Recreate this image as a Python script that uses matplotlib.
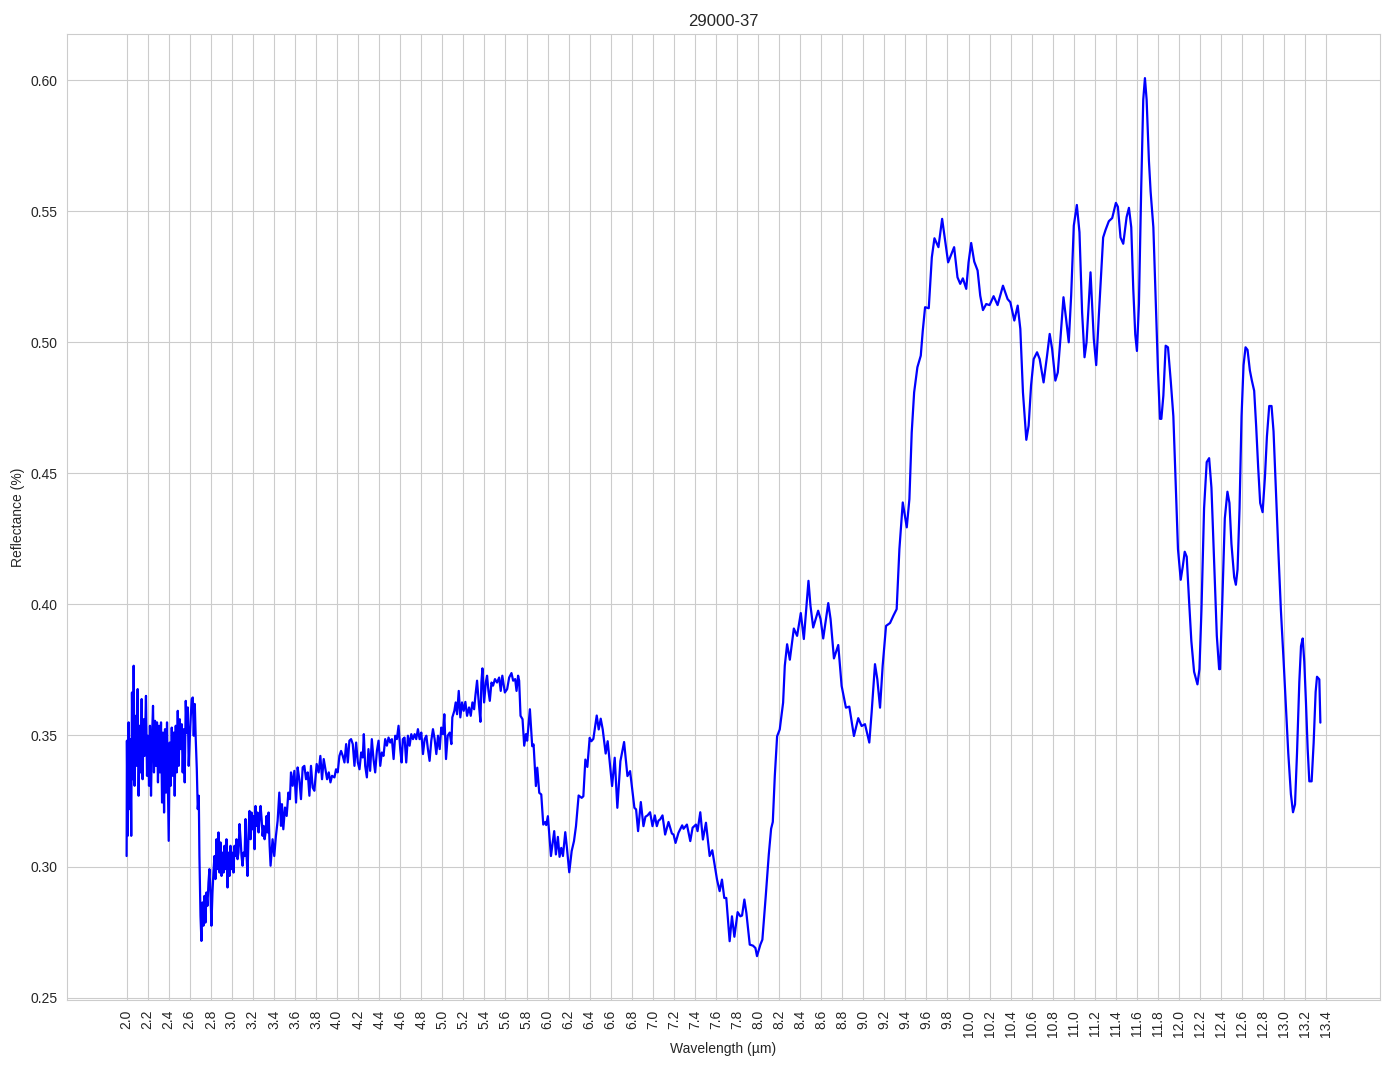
import matplotlib
matplotlib.use("Agg")
import matplotlib.pyplot as plt
import seaborn as sns
import numpy as np

# (wavelength µm, reflectance), segment by segment
seg_a = [
    (2.000, 0.304), (2.003, 0.348), (2.010, 0.3117), (2.019, 0.355), (2.029, 0.3219), (2.035, 0.3486),
    (2.044, 0.3117), (2.051, 0.3664), (2.060, 0.3333), (2.067, 0.3766), (2.076, 0.3308), (2.086, 0.3575),
    (2.095, 0.3384), (2.105, 0.3677), (2.114, 0.327), (2.124, 0.3537), (2.133, 0.3359), (2.143, 0.3639),
    (2.152, 0.3333), (2.162, 0.3562), (2.171, 0.3422), (2.184, 0.3651), (2.194, 0.3346), (2.203, 0.3499),
    (2.213, 0.3308), (2.222, 0.3537), (2.232, 0.327), (2.241, 0.3486), (2.251, 0.3613), (2.260, 0.3359),
    (2.270, 0.3556), (2.279, 0.3384), (2.289, 0.355), (2.298, 0.3321), (2.308, 0.3537), (2.317, 0.3359),
    (2.327, 0.355), (2.337, 0.3244), (2.346, 0.3511), (2.356, 0.3206), (2.365, 0.3524), (2.375, 0.3282),
    (2.384, 0.355), (2.394, 0.327), (2.400, 0.3098), (2.410, 0.3473), (2.419, 0.3308), (2.429, 0.353),
    (2.438, 0.3346), (2.448, 0.3511), (2.457, 0.327), (2.467, 0.3537), (2.476, 0.3359), (2.486, 0.3594),
    (2.495, 0.3384), (2.505, 0.3562), (2.514, 0.3448), (2.524, 0.3543), (2.533, 0.3359), (2.543, 0.3524),
    (2.552, 0.3321), (2.562, 0.3632), (2.571, 0.3511), (2.581, 0.3607), (2.590, 0.3384), (2.600, 0.3486),
    (2.610, 0.3575), (2.619, 0.3639), (2.629, 0.3645), (2.638, 0.3499), (2.648, 0.362), (2.657, 0.3486),
    (2.667, 0.3372), (2.676, 0.3219), (2.686, 0.327), (2.692, 0.304), (2.702, 0.2812), (2.711, 0.2716),
]
seg_b = [
    (2.721, 0.2863), (2.730, 0.2774), (2.740, 0.2888), (2.749, 0.2786), (2.759, 0.2901), (2.768, 0.285),
    (2.778, 0.2939), (2.787, 0.299), (2.797, 0.2901), (2.806, 0.2774), (2.816, 0.2901), (2.825, 0.2977),
    (2.835, 0.304), (2.844, 0.2952), (2.854, 0.3104), (2.863, 0.299), (2.873, 0.313), (2.883, 0.2977),
    (2.892, 0.3092), (2.902, 0.2964), (2.911, 0.3053), (2.921, 0.2977), (2.930, 0.3079), (2.940, 0.299),
    (2.949, 0.3104), (2.959, 0.292), (2.968, 0.3053), (2.978, 0.2964), (2.987, 0.3079), (2.997, 0.299),
    (3.006, 0.3053), (3.016, 0.2977), (3.025, 0.3079), (3.035, 0.304), (3.044, 0.3104), (3.054, 0.3028),
    (3.063, 0.3053), (3.073, 0.3162), (3.083, 0.3104), (3.092, 0.304), (3.102, 0.3003), (3.111, 0.3053),
    (3.121, 0.304), (3.130, 0.3181), (3.140, 0.304), (3.149, 0.2964), (3.159, 0.313), (3.168, 0.3212),
    (3.178, 0.3104), (3.187, 0.3206), (3.197, 0.3142), (3.206, 0.3193), (3.216, 0.3066), (3.225, 0.3231),
    (3.235, 0.3155), (3.244, 0.3206), (3.254, 0.313), (3.263, 0.3181), (3.273, 0.3231), (3.283, 0.3181),
    (3.292, 0.3117), (3.302, 0.3155), (3.311, 0.3104), (3.321, 0.313), (3.330, 0.3193), (3.340, 0.313),
    (3.349, 0.3206), (3.359, 0.3079), (3.368, 0.3003),
]
seg_c = [
    (3.387, 0.3104), (3.403, 0.304), (3.419, 0.3117), (3.435, 0.3174), (3.451, 0.3282), (3.467, 0.3155),
    (3.476, 0.3238), (3.489, 0.3142), (3.505, 0.3225), (3.521, 0.3193), (3.537, 0.3282), (3.552, 0.3257),
    (3.562, 0.3359), (3.578, 0.3308), (3.594, 0.3365), (3.610, 0.3244), (3.625, 0.3378), (3.641, 0.3333),
    (3.657, 0.3257), (3.673, 0.3378), (3.689, 0.3384), (3.705, 0.3333), (3.721, 0.3359), (3.737, 0.327),
    (3.752, 0.3384), (3.768, 0.3301), (3.784, 0.3289), (3.806, 0.3391), (3.825, 0.3359), (3.841, 0.3422),
    (3.857, 0.3333), (3.873, 0.341), (3.889, 0.3371), (3.905, 0.3333), (3.921, 0.3359), (3.937, 0.3321),
    (3.952, 0.3346), (3.975, 0.334), (3.990, 0.3371), (4.006, 0.3359), (4.022, 0.3422), (4.038, 0.3441),
    (4.054, 0.3422), (4.070, 0.3397), (4.086, 0.3467), (4.102, 0.3397), (4.117, 0.348), (4.133, 0.3486),
    (4.149, 0.3467), (4.165, 0.3384), (4.181, 0.3473), (4.197, 0.3397), (4.213, 0.3371), (4.229, 0.3435),
    (4.244, 0.3416), (4.254, 0.3505), (4.267, 0.3384), (4.283, 0.334), (4.298, 0.3448), (4.314, 0.3365),
    (4.330, 0.3486), (4.346, 0.341), (4.362, 0.3359), (4.378, 0.3441), (4.394, 0.348), (4.410, 0.3384),
    (4.425, 0.3435), (4.441, 0.3422), (4.457, 0.3486), (4.473, 0.3461), (4.489, 0.3492), (4.505, 0.3473),
    (4.521, 0.3486), (4.537, 0.341), (4.552, 0.3499), (4.568, 0.3486), (4.584, 0.3537), (4.600, 0.3448),
    (4.613, 0.3397), (4.625, 0.3486), (4.641, 0.3492), (4.657, 0.3397), (4.673, 0.3499), (4.689, 0.3461),
    (4.705, 0.3505), (4.721, 0.3486), (4.737, 0.3505), (4.752, 0.3486), (4.768, 0.3524), (4.784, 0.3486),
    (4.800, 0.3511), (4.816, 0.3429), (4.832, 0.3486), (4.848, 0.3499), (4.863, 0.3448), (4.879, 0.3403),
    (4.895, 0.348), (4.911, 0.3524), (4.927, 0.3486), (4.943, 0.3429), (4.959, 0.3499), (4.975, 0.3448),
    (4.990, 0.353),
]
seg_d = [
    (5.006, 0.3505), (5.019, 0.3581), (5.035, 0.341), (5.051, 0.3499), (5.070, 0.3511), (5.086, 0.3467),
    (5.095, 0.3569), (5.114, 0.3594), (5.127, 0.3626), (5.140, 0.3581), (5.156, 0.367), (5.171, 0.3569),
    (5.187, 0.3626), (5.203, 0.3594), (5.219, 0.3628), (5.235, 0.3575), (5.254, 0.3607), (5.270, 0.3575),
    (5.286, 0.3626), (5.302, 0.360), (5.314, 0.3651), (5.330, 0.3709), (5.346, 0.3626), (5.362, 0.3552),
    (5.371, 0.3702), (5.381, 0.3756), (5.397, 0.3626), (5.413, 0.3702), (5.425, 0.3728), (5.438, 0.367),
    (5.451, 0.3632), (5.467, 0.3702), (5.482, 0.369), (5.500, 0.3715), (5.520, 0.3702), (5.540, 0.3721),
    (5.555, 0.367), (5.570, 0.3728), (5.594, 0.3664), (5.616, 0.3677), (5.635, 0.3721), (5.657, 0.3738),
    (5.673, 0.3709), (5.692, 0.3715), (5.705, 0.367), (5.720, 0.3728), (5.730, 0.3709), (5.743, 0.3575),
    (5.762, 0.3562), (5.778, 0.3461), (5.794, 0.3505), (5.806, 0.348),
]
seg_e = [
    (5.832, 0.360), (5.854, 0.3459), (5.867, 0.3466), (5.889, 0.3307), (5.902, 0.3377), (5.921, 0.3281),
    (5.940, 0.3275), (5.959, 0.316), (5.978, 0.317), (5.987, 0.3158), (6.003, 0.3192), (6.032, 0.304),
    (6.063, 0.3135), (6.079, 0.3046), (6.098, 0.3113), (6.114, 0.3037), (6.130, 0.3071), (6.146, 0.304),
    (6.168, 0.3131), (6.184, 0.3071), (6.206, 0.2978), (6.229, 0.3059), (6.251, 0.3097), (6.270, 0.3154),
    (6.295, 0.3271), (6.324, 0.3262), (6.340, 0.3268), (6.359, 0.3408), (6.378, 0.338), (6.400, 0.3491),
    (6.416, 0.3478), (6.435, 0.3487), (6.467, 0.3576), (6.486, 0.3523), (6.505, 0.3564), (6.524, 0.3523),
    (6.552, 0.3431), (6.571, 0.3478), (6.613, 0.3307), (6.638, 0.3415), (6.663, 0.3224), (6.692, 0.3402),
    (6.727, 0.3475), (6.759, 0.3345), (6.784, 0.3364), (6.825, 0.3224), (6.841, 0.3218), (6.860, 0.3135),
    (6.886, 0.3246), (6.911, 0.3154), (6.930, 0.319), (6.950, 0.3195), (6.974, 0.3207), (6.997, 0.3154),
    (7.019, 0.3195), (7.038, 0.3154), (7.054, 0.3175), (7.070, 0.318), (7.092, 0.3195), (7.117, 0.3122),
    (7.149, 0.317), (7.181, 0.3126), (7.197, 0.3122), (7.216, 0.309), (7.244, 0.3129), (7.279, 0.3157),
    (7.292, 0.3144), (7.324, 0.316), (7.356, 0.3097), (7.378, 0.3148), (7.410, 0.316), (7.425, 0.3135),
    (7.451, 0.3207), (7.476, 0.3103), (7.505, 0.3167), (7.540, 0.304), (7.565, 0.3062), (7.610, 0.295),
    (7.635, 0.2906), (7.657, 0.295), (7.679, 0.288), (7.698, 0.288), (7.730, 0.2715), (7.752, 0.281),
    (7.775, 0.2732), (7.806, 0.2826), (7.832, 0.281), (7.848, 0.2813), (7.870, 0.2874), (7.889, 0.2823),
    (7.921, 0.2702), (7.952, 0.2698), (7.975, 0.2689), (7.990, 0.2658), (8.022, 0.2702), (8.041, 0.2721),
    (8.073, 0.2887), (8.102, 0.3046), (8.124, 0.3144), (8.140, 0.317), (8.159, 0.3345), (8.181, 0.3497),
    (8.206, 0.3523), (8.238, 0.3625),
]
seg_f = [
    (8.254, 0.3766), (8.276, 0.3848), (8.302, 0.3789), (8.340, 0.3908), (8.371, 0.388), (8.406, 0.3967),
    (8.435, 0.3868), (8.460, 0.3995), (8.479, 0.409), (8.498, 0.3995), (8.524, 0.3912), (8.571, 0.3976),
    (8.594, 0.3944), (8.619, 0.387), (8.667, 0.4005), (8.689, 0.3944), (8.721, 0.3794), (8.762, 0.3845),
    (8.794, 0.3689), (8.835, 0.3606), (8.867, 0.361), (8.911, 0.3498), (8.952, 0.3566), (8.984, 0.3536),
    (9.016, 0.3543), (9.057, 0.3473), (9.079, 0.3587), (9.111, 0.3772), (9.133, 0.3715), (9.159, 0.3606),
    (9.184, 0.3766), (9.216, 0.3918), (9.254, 0.3929), (9.286, 0.3957), (9.317, 0.3982), (9.333, 0.4122),
]
seg_g = [
    (9.343, 0.4211), (9.375, 0.4389), (9.413, 0.4294), (9.438, 0.4402), (9.460, 0.4656), (9.483, 0.4809),
    (9.514, 0.4905), (9.546, 0.4949), (9.565, 0.5044), (9.587, 0.5134), (9.622, 0.513), (9.651, 0.5324),
    (9.676, 0.5397), (9.714, 0.5363), (9.749, 0.5471), (9.771, 0.5407), (9.806, 0.5305), (9.863, 0.5363),
    (9.895, 0.5248), (9.921, 0.5223), (9.946, 0.5244), (9.978, 0.5204), (10.000, 0.5305), (10.025, 0.5379),
    (10.054, 0.5308), (10.086, 0.5274), (10.111, 0.5178), (10.137, 0.5123), (10.168, 0.5146), (10.200, 0.5142),
    (10.238, 0.5176), (10.276, 0.5142), (10.327, 0.5216), (10.371, 0.5165), (10.397, 0.5153), (10.435, 0.5083),
    (10.467, 0.514), (10.492, 0.5051), (10.517, 0.4809), (10.549, 0.4628), (10.571, 0.4682), (10.594, 0.4835),
    (10.619, 0.4936), (10.651, 0.4962), (10.676, 0.4936), (10.713, 0.4847), (10.746, 0.4949), (10.771, 0.5032),
    (10.794, 0.4975), (10.825, 0.4854), (10.848, 0.4885), (10.873, 0.5013), (10.902, 0.5172), (10.927, 0.5089),
    (10.952, 0.500), (10.975, 0.5178), (11.000, 0.5445), (11.029, 0.5524), (11.054, 0.542), (11.079, 0.5114),
    (11.102, 0.4943), (11.121, 0.500), (11.159, 0.5267), (11.190, 0.5013), (11.213, 0.4913), (11.238, 0.5102),
]
seg_h = [
    (11.279, 0.540), (11.302, 0.5429), (11.333, 0.5462), (11.365, 0.5474), (11.400, 0.5532), (11.419, 0.5517),
    (11.444, 0.540), (11.470, 0.5376), (11.502, 0.5478), (11.524, 0.5513), (11.546, 0.5439), (11.565, 0.5205),
    (11.584, 0.503), (11.600, 0.4967), (11.619, 0.5147), (11.641, 0.5595), (11.660, 0.5926), (11.676, 0.6008),
    (11.692, 0.5926), (11.714, 0.5692), (11.730, 0.5575), (11.756, 0.5439), (11.778, 0.5166), (11.800, 0.4893),
    (11.819, 0.4708), (11.832, 0.4708), (11.851, 0.4796), (11.873, 0.4987), (11.895, 0.4981), (11.921, 0.4854),
    (11.946, 0.4718), (11.968, 0.4464), (11.990, 0.4211), (12.016, 0.4094), (12.035, 0.4143), (12.054, 0.4201),
    (12.073, 0.4182), (12.095, 0.4016), (12.117, 0.386), (12.143, 0.3743), (12.175, 0.3695), (12.194, 0.3753),
    (12.213, 0.3977), (12.238, 0.4367), (12.263, 0.4543), (12.286, 0.4558), (12.308, 0.4445), (12.333, 0.4172),
    (12.359, 0.388), (12.381, 0.3753), (12.390, 0.3753), (12.413, 0.4036), (12.435, 0.4328), (12.460, 0.443),
    (12.479, 0.4387), (12.498, 0.4231), (12.524, 0.4104), (12.540, 0.4075), (12.556, 0.4133), (12.575, 0.4367),
    (12.594, 0.4718), (12.613, 0.4913), (12.632, 0.4981), (12.651, 0.4971), (12.673, 0.4893), (12.692, 0.4854),
    (12.714, 0.4815), (12.733, 0.4679), (12.752, 0.4523), (12.771, 0.4387), (12.794, 0.4352), (12.816, 0.4484),
    (12.835, 0.464), (12.857, 0.4757), (12.879, 0.4757), (12.898, 0.466), (12.921, 0.4426), (12.943, 0.4211),
    (12.968, 0.3977), (12.994, 0.3782), (13.016, 0.3607), (13.038, 0.3432), (13.063, 0.3276), (13.083, 0.3207),
    (13.102, 0.3237), (13.121, 0.3432), (13.143, 0.3705), (13.159, 0.3841), (13.175, 0.387), (13.190, 0.3782),
    (13.206, 0.3627), (13.222, 0.3451), (13.238, 0.3325), (13.260, 0.3325), (13.279, 0.3471), (13.298, 0.3666),
    (13.311, 0.3724), (13.333, 0.3714), (13.343, 0.3549),
]

title = "29000-37"
x_label = "Wavelength (µm)"
y_label = "Reflectance (%)"
x_tick_values = [round(2.0 + 0.2 * i, 1) for i in range(58)]

points = seg_a + seg_b + seg_c + seg_d + seg_e + seg_f + seg_g + seg_h
wavelength = np.array([p[0] for p in points])
reflectance = np.array([p[1] for p in points])

sns.set_style("whitegrid")
plt.rcParams["font.family"] = ["Liberation Sans", "DejaVu Sans"]
fig, ax = plt.subplots(figsize=(13.94, 10.69), dpi=100)
ax.plot(wavelength, reflectance, color="blue", linewidth=1.6)
ax.set_xticks(x_tick_values)
ax.set_xticklabels([f"{v:.1f}" for v in x_tick_values], rotation=90)
ax.set_title(title)
ax.set_xlabel(x_label)
ax.set_ylabel(y_label)
fig.subplots_adjust(left=0.048, right=0.990, top=0.968, bottom=0.0645)
fig.savefig("out.png", dpi=100)
